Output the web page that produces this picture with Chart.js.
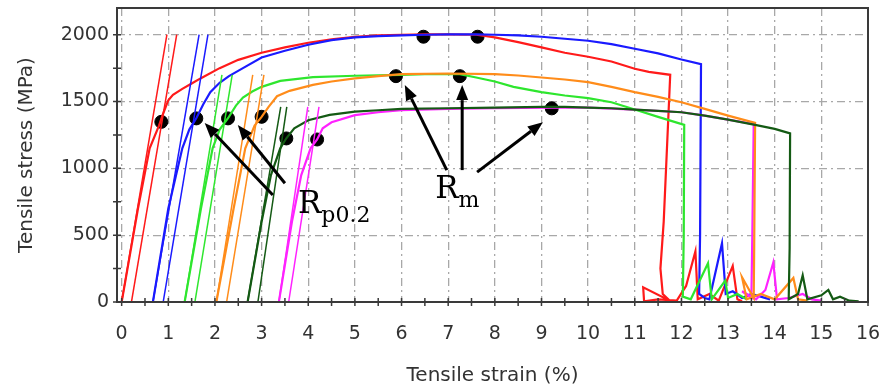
<!DOCTYPE html>
<html>
<head>
<meta charset="utf-8">
<script src="https://cdn.jsdelivr.net/npm/chart.js@4"></script>
<style>
  html, body { margin: 0; padding: 0; background: #fff; }
  #wrap { width: 882px; height: 392px; }
</style>
</head>
<body>
<div id="wrap"><canvas id="myChart" width="882" height="392"></canvas></div>
<script>
// Tensile curves, strain in %, stress in MPa (fracture noise included)
var redStrain = [0, 0.35, 0.6, 0.8, 0.9, 1.0, 1.1, 1.3, 1.5, 1.7, 2.1, 2.5, 3.0, 3.5, 4.0, 4.5, 5.0, 5.5, 6.0, 6.5, 7.0, 7.6, 8.0, 8.5, 9.0, 9.5, 10.0, 10.5, 11.0, 11.3, 11.76,
                 11.62, 11.55, 11.6, 11.75, 11.18, 11.2, 11.5, 11.9, 12.1, 12.3, 12.35, 12.6, 12.8, 13.1, 13.2, 13.3];
var redStress = [0, 700, 1150, 1320, 1420, 1510, 1550, 1595, 1635, 1675, 1750, 1812, 1865, 1905, 1940, 1965, 1985, 1995, 2000, 2003, 2003, 2000, 1980, 1945, 1905, 1865, 1835, 1800, 1745, 1722, 1700,
                 600, 250, 60, 10, 110, 5, 20, 10, 120, 380, 20, 60, 10, 270, 20, 5];

var blueStrain = [0.67, 1.0, 1.3, 1.45, 1.6, 1.75, 1.9, 2.1, 2.3, 2.6, 3.0, 3.5, 4.0, 4.5, 5.0, 5.5, 6.0, 6.5, 7.0, 7.6, 8.0, 8.5, 9.0, 9.5, 10.0, 10.5, 11.0, 11.5, 12.0, 12.42,
                  12.4, 12.38, 12.5, 12.6, 12.87, 12.95, 13.1, 13.3, 13.5, 13.7, 13.9];
var blueStress = [0, 700, 1150, 1290, 1375, 1480, 1570, 1640, 1690, 1750, 1830, 1880, 1925, 1960, 1980, 1990, 1995, 2000, 2003, 2003, 2000, 1995, 1985, 1970, 1955, 1930, 1895, 1860, 1815, 1780,
                  500, 60, 30, 20, 440, 60, 80, 30, 60, 40, 20];

var greenStrain = [1.35, 1.7, 1.95, 2.1, 2.28, 2.45, 2.6, 2.8, 3.0, 3.4, 4.1, 5.0, 6.0, 6.5, 7.25, 7.6, 8.0, 8.4, 9.0, 9.5, 10.0, 10.5, 11.0, 11.5, 12.06,
                   12.05, 12.03, 12.2, 12.57, 12.65, 12.94, 13.0, 13.2, 13.4];
var greenStress = [0, 700, 1150, 1290, 1375, 1470, 1530, 1575, 1610, 1655, 1683, 1693, 1700, 1705, 1705, 1680, 1650, 1610, 1570, 1545, 1525, 1495, 1440, 1385, 1325,
                   500, 40, 20, 290, 20, 160, 30, 60, 20];

var orangeStrain = [2.03, 2.4, 2.65, 2.85, 3.0, 3.15, 3.33, 3.6, 4.1, 4.5, 5.0, 5.5, 6.0, 7.0, 8.0, 8.5, 9.0, 9.5, 10.0, 10.5, 11.0, 11.5, 12.0, 12.5, 13.0, 13.58,
                    13.56, 13.55, 13.3, 13.4, 13.7, 14.0, 14.4, 14.5, 14.7];
var orangeStress = [0, 700, 1150, 1320, 1385, 1460, 1540, 1580, 1625, 1650, 1673, 1690, 1705, 1710, 1705, 1695, 1680, 1665, 1645, 1610, 1570, 1535, 1495, 1445, 1395, 1340,
                    400, 30, 185, 20, 60, 20, 180, 20, 10];

var darkStrain = [2.70, 3.0, 3.2, 3.4, 3.53, 3.7, 4.0, 4.46, 5.0, 5.5, 6.0, 7.0, 8.0, 9.0, 9.5, 10.0, 10.5, 11.0, 11.5, 12.0, 12.5, 13.0, 13.58, 14.0, 14.33,
                  14.32, 14.3, 14.5, 14.6, 14.7, 15.0, 15.15, 15.25, 15.4, 15.6, 15.8];
var darkStress = [0, 600, 950, 1150, 1225, 1300, 1360, 1400, 1425, 1435, 1445, 1450, 1455, 1460, 1460, 1455, 1450, 1440, 1430, 1420, 1395, 1365, 1325, 1295, 1262,
                  400, 20, 60, 200, 20, 50, 90, 20, 40, 10, 5];

var magentaStrain = [3.37, 3.65, 3.85, 4.05, 4.19, 4.31, 4.5, 5.0, 5.5, 6.0, 7.0, 8.0, 9.22, 10.0, 11.0, 12.0, 12.5, 13.0, 13.55,
                     13.52, 13.5, 13.3, 13.6, 13.8, 13.97, 14.05, 14.3, 14.6, 14.8, 15.0];
var magentaStress = [0, 600, 950, 1150, 1216, 1300, 1345, 1398, 1420, 1436, 1445, 1450, 1455, 1455, 1440, 1420, 1395, 1365, 1330,
                     500, 30, 80, 20, 90, 296, 20, 30, 60, 20, 10];

// elastic and 0.2 % offset lines: foot at zero stress, head at lineTop
var lineFoot = [0, 0.21, 0.67, 0.89, 1.35, 1.57, 2.03, 2.25, 2.70, 2.92, 3.37, 3.58];
var lineHead = [0.97, 1.18, 1.66, 1.85, 2.15, 2.37, 2.81, 3.05, 3.41, 3.54, 3.99, 4.23];
var lineTop = [2000, 2000, 2000, 2000, 1700, 1700, 1700, 1700, 1460, 1460, 1460, 1460];

// yield (Rp0.2) and tensile strength (Rm) markers
var rpStrain = [0.85, 1.60, 2.28, 3.00, 3.53, 4.19];
var rpStress = [1348, 1374, 1374, 1386, 1224, 1216];
var rmStrain = [6.47, 7.63, 5.88, 7.25, 9.22];
var rmStress = [1985, 1985, 1690, 1690, 1449];

var xTicks = [];
for (var i = 0; i <= 32; i++) xTicks.push(i / 2);
var yTicks = [0, 250, 500, 750, 1000, 1250, 1500, 1750, 2000];

var colors = ['#ff1a1a', '#1a1aff', '#2ee62e', '#ff8c1a', '#145a14', '#ff22ff'];

function zip(xs, ys) {
    return xs.map(function (v, k) { return { x: v, y: ys[k] }; });
}

var datasets = [];
// straight lines first, curves over them
for (var k = 0; k < lineFoot.length; k++) {
    datasets.push({
        data: [{ x: lineFoot[k], y: 0 }, { x: lineHead[k], y: lineTop[k] }],
        borderColor: colors[Math.floor(k / 2)],
        borderWidth: 1.5,
        pointRadius: 0
    });
}
var curves = [
    [darkStrain, darkStress, 4],
    [orangeStrain, orangeStress, 3],
    [greenStrain, greenStress, 2],
    [magentaStrain, magentaStress, 5],
    [blueStrain, blueStress, 1],
    [redStrain, redStress, 0]
];
curves.forEach(function (c) {
    datasets.push({
        data: zip(c[0], c[1]),
        borderColor: colors[c[2]],
        borderWidth: 2.2,
        pointRadius: 0
    });
});
datasets.push({
    data: zip(rpStrain, rpStress).concat(zip(rmStrain, rmStress)),
    showLine: false,
    pointRadius: 6.5,
    backgroundColor: '#000',
    borderColor: '#000'
});

// arrows in data units: [fromX, fromY, toX, toY]
var arrows = [
    [3.24, 800, 1.78, 1339],
    [3.50, 889, 2.49, 1324],
    [6.97, 987, 6.07, 1623],
    [7.30, 987, 7.30, 1623],
    [7.62, 972, 9.03, 1346]
];

var decorations = {
    id: 'decorations',
    afterDatasetsDraw: function (chart) {
        var ctx = chart.ctx, a = chart.chartArea;
        var xs = chart.scales.x, ys = chart.scales.y;
        ctx.save();

        // frame
        ctx.strokeStyle = '#3a3a3a';
        ctx.lineWidth = 2;
        ctx.strokeRect(a.left, a.top, a.right - a.left, a.bottom - a.top);

        // ticks crossing the axes
        ctx.lineWidth = 1.5;
        ctx.beginPath();
        xTicks.forEach(function (v) {
            var px = xs.getPixelForValue(v);
            ctx.moveTo(px, a.bottom - 4);
            ctx.lineTo(px, a.bottom + 4);
        });
        yTicks.forEach(function (v) {
            var py = ys.getPixelForValue(v);
            ctx.moveTo(a.left - 4, py);
            ctx.lineTo(a.left + 4, py);
        });
        ctx.stroke();

        // arrows
        ctx.strokeStyle = '#000';
        ctx.fillStyle = '#000';
        ctx.lineWidth = 3;
        arrows.forEach(function (ar) {
            var x0 = xs.getPixelForValue(ar[0]), y0 = ys.getPixelForValue(ar[1]);
            var x1 = xs.getPixelForValue(ar[2]), y1 = ys.getPixelForValue(ar[3]);
            var ang = Math.atan2(y1 - y0, x1 - x0);
            var len = 15, half = 6;
            var bx = x1 - len * Math.cos(ang), by = y1 - len * Math.sin(ang);
            ctx.beginPath();
            ctx.moveTo(x0, y0);
            ctx.lineTo(bx, by);
            ctx.stroke();
            ctx.beginPath();
            ctx.moveTo(x1, y1);
            ctx.lineTo(bx + half * Math.sin(ang), by - half * Math.cos(ang));
            ctx.lineTo(bx - half * Math.sin(ang), by + half * Math.cos(ang));
            ctx.closePath();
            ctx.fill();
        });

        // labels
        ctx.textBaseline = 'alphabetic';
        ctx.textAlign = 'left';
        function label(x, y, sub) {
            var px = xs.getPixelForValue(x), py = ys.getPixelForValue(y);
            ctx.font = '31px "DejaVu Serif"';
            ctx.fillText('R', px, py);
            var w = ctx.measureText('R').width;
            ctx.font = '22px "DejaVu Serif"';
            ctx.fillText(sub, px + w, py + 9);
        }
        label(3.78, 664, 'p0.2');
        label(6.72, 777, 'm');
        ctx.restore();
    }
};

var tickFont = { family: 'DejaVu Sans', size: 19 };
var titleFont = { family: 'DejaVu Sans', size: 20 };

var myChart = new Chart(document.getElementById('myChart').getContext('2d'), {
    type: 'scatter',
    data: { datasets: datasets },
    options: {
        responsive: false,
        animation: false,
        showLine: true,
        layout: { padding: { top: 8, right: 14, left: 0, bottom: 0 } },
        plugins: { legend: { display: false }, tooltip: { enabled: false } },
        elements: { line: { tension: 0 } },
        scales: {
            x: {
                type: 'linear',
                min: -0.1,
                max: 16,
                afterBuildTicks: function (axis) {
                    axis.ticks = xTicks.map(function (v) { return { value: v }; });
                },
                afterFit: function (axis) {
                    axis.height = 90;
                    axis.paddingLeft = 0;
                    axis.paddingRight = 0;
                },
                ticks: {
                    autoSkip: false,
                    maxRotation: 0,
                    padding: 21,
                    color: '#333',
                    font: tickFont,
                    callback: function (v) { return v % 1 === 0 ? String(v) : ''; }
                },
                grid: {
                    drawTicks: false,
                    lineWidth: 1.3,
                    color: function (c) {
                        var v = c.tick && c.tick.value;
                        return v % 1 === 0 && v >= 0 && v < 16 ? '#a8a8a8' : 'rgba(0,0,0,0)';
                    }
                },
                border: { display: false, dash: [8, 4, 2, 4] },
                title: {
                    display: true,
                    text: 'Tensile strain (%)',
                    color: '#333',
                    font: titleFont,
                    padding: { top: 0, bottom: 4 }
                }
            },
            y: {
                type: 'linear',
                min: 0,
                max: 2200,
                afterBuildTicks: function (axis) {
                    axis.ticks = yTicks.map(function (v) { return { value: v }; });
                },
                afterFit: function (axis) {
                    axis.width = 117;
                    axis.paddingTop = 0;
                    axis.paddingBottom = 0;
                },
                ticks: {
                    autoSkip: false,
                    padding: 8,
                    color: '#333',
                    font: tickFont,
                    callback: function (v) { return v % 500 === 0 ? String(v) : ''; }
                },
                grid: {
                    drawTicks: false,
                    lineWidth: 1.3,
                    color: function (c) {
                        var v = c.tick && c.tick.value;
                        return v % 500 === 0 && v > 0 ? '#a8a8a8' : 'rgba(0,0,0,0)';
                    }
                },
                border: { display: false, dash: [8, 4, 2, 4] },
                title: {
                    display: true,
                    text: 'Tensile stress (MPa)',
                    color: '#333',
                    font: titleFont,
                    padding: { top: 15, bottom: 0 }
                }
            }
        }
    },
    plugins: [decorations]
});
</script>
</body>
</html>
